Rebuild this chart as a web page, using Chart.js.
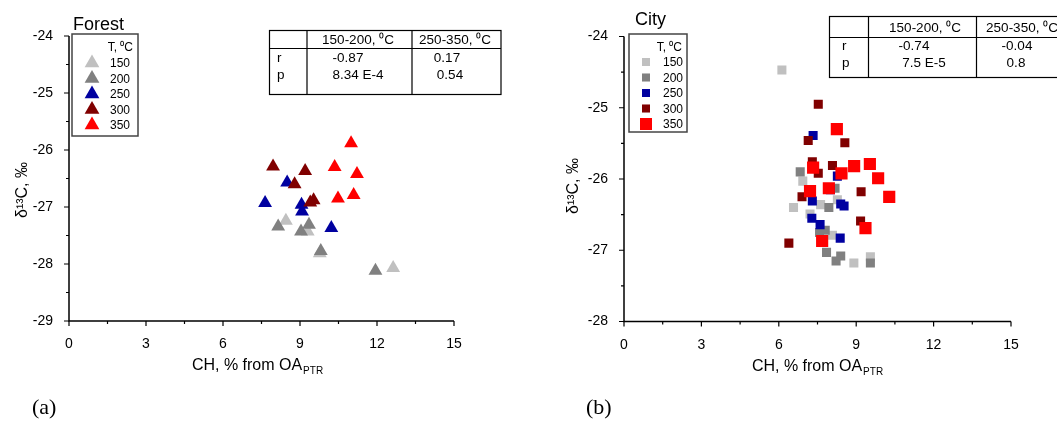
<!DOCTYPE html>
<html lang="en">
<head>
<meta charset="utf-8">
<title>d13C vs CH - Forest and City</title>
<script src="https://cdn.jsdelivr.net/npm/chart.js@4.4.1/dist/chart.umd.min.js"></script>
<style>
  body { margin: 0; background: #fff; }
  #wrap { position: relative; width: 1057px; height: 421px; overflow: hidden; }
  canvas { position: absolute; top: 0; }
  #forest { left: 0; }
  #city { left: 540px; }
</style>
</head>
<body>
<div id="wrap">
  <canvas id="forest" width="540" height="421"></canvas>
  <canvas id="city" width="517" height="421"></canvas>
</div>
<script>
// pyrolysis temperatures and colours
const temps = ['150', '200', '250', '300', '350'];
const colours = ['#c0c0c0', '#808080', '#0000a0', '#800000', '#ff0000'];

// Forest: [CH % from OA_PTR, d13C permil]
const forest150 = [[8.45, -27.24], [9.30, -27.43], [9.77, -27.81], [12.63, -28.07]];
const forest200 = [[8.15, -27.34], [9.35, -27.31], [9.04, -27.43], [9.81, -27.77], [11.94, -28.12]];
const forest250 = [[8.50, -26.57], [7.64, -26.93], [9.06, -26.96], [9.08, -27.08], [10.22, -27.37]];
const forest300 = [[7.95, -26.29], [9.20, -26.37], [8.79, -26.60], [9.53, -26.88], [9.40, -26.92]];
const forest350 = [[10.99, -25.88], [10.35, -26.30], [11.22, -26.42], [10.48, -26.85], [11.09, -26.79]];

// City
const city150 = [[6.12, -24.47], [6.93, -26.03], [6.57, -26.40], [7.62, -26.36], [7.21, -26.49],
                 [8.27, -26.29], [8.08, -26.79], [8.91, -27.18], [9.55, -27.09]];
const city200 = [[6.83, -25.90], [8.18, -26.13], [7.94, -26.40], [7.58, -26.75], [7.80, -26.72],
                 [7.85, -27.03], [8.22, -27.15], [8.40, -27.08], [9.55, -27.18]];
const city250 = [[7.33, -25.39], [8.27, -25.96], [8.00, -26.15], [7.30, -26.31], [8.40, -26.35],
                 [8.53, -26.38], [7.28, -26.55], [7.60, -26.64], [8.38, -26.83]];
const city300 = [[7.53, -24.95], [7.14, -25.46], [8.56, -25.49], [7.30, -25.76], [8.08, -25.81],
                 [7.53, -25.92], [6.90, -26.25], [9.19, -26.18], [9.17, -26.59], [6.39, -26.90]];
const city350 = [[8.25, -25.30], [7.33, -25.84], [8.43, -25.92], [8.92, -25.82], [9.53, -25.79],
                 [9.85, -25.99], [7.94, -26.13], [7.21, -26.17], [10.28, -26.25], [9.36, -26.69],
                 [7.68, -26.87]];

// correlation tables
const tableHead = ['150-200, \u2070C', '250-350, \u2070C'];
const rowNames = ['r', 'p'];
const forestStats = [['-0.87', '0.17'], ['8.34 E-4', '0.54']];
const cityStats = [['-0.74', '-0.04'], ['7.5 E-5', '0.8']];

const xTicks = { min: 0, max: 15, step: 3 };
const FONT = 'Liberation Sans, Arial, sans-serif';

function markerAt(ctx, style, r, x, y) {
  if (Chart.helpers && Chart.helpers.drawPoint) {
    Chart.helpers.drawPoint(ctx, { pointStyle: style, radius: r, rotation: 0, borderWidth: 0 }, x, y);
    return;
  }
  ctx.beginPath();
  if (style === 'triangle') {
    ctx.moveTo(x, y - r);
    ctx.lineTo(x + r * 0.866, y + r / 2);
    ctx.lineTo(x - r * 0.866, y + r / 2);
    ctx.closePath();
  } else {
    const s = r * Math.SQRT1_2;
    ctx.rect(x - s, y - s, 2 * s, 2 * s);
  }
  ctx.fill();
}

const decor = {
  id: 'decor',
  afterDraw(chart, args, o) {
    const ctx = chart.ctx, a = chart.chartArea;
    const xs = chart.scales.x, ys = chart.scales.y;
    ctx.save();

    // axis lines
    ctx.strokeStyle = '#000';
    ctx.lineWidth = 1.5;
    ctx.beginPath();
    ctx.moveTo(a.left, a.top);
    ctx.lineTo(a.left, a.bottom);
    ctx.lineTo(a.right, a.bottom);
    ctx.stroke();

    // major + minor ticks, outward
    ctx.lineWidth = 1.2;
    ctx.beginPath();
    for (let i = 0; i <= 10; i++) {
      const px = xs.getPixelForValue(i * 1.5);
      ctx.moveTo(px, a.bottom);
      ctx.lineTo(px, a.bottom + (i % 2 === 0 ? 5 : 3));
    }
    const ny = Math.round((ys.max - ys.min) * 2);
    for (let i = 0; i <= ny; i++) {
      const py = ys.getPixelForValue(ys.min + i * 0.5);
      ctx.moveTo(a.left, py);
      ctx.lineTo(a.left - (i % 2 === 0 ? 5 : 3), py);
    }
    ctx.stroke();

    ctx.fillStyle = '#000';

    // y title
    ctx.save();
    ctx.translate(o.yTitle[0], o.yTitle[1]);
    ctx.rotate(-Math.PI / 2);
    ctx.font = '16px ' + FONT;
    ctx.textAlign = 'center';
    ctx.textBaseline = 'middle';
    ctx.fillText('\u03b4\u00b9\u00b3C, \u2030', 0, 0);
    ctx.restore();

    // x title with subscript
    ctx.textBaseline = 'alphabetic';
    ctx.textAlign = 'left';
    ctx.font = '16px ' + FONT;
    const main = 'CH, % from OA';
    const wm = ctx.measureText(main).width;
    ctx.font = '10px ' + FONT;
    const ws = ctx.measureText('PTR').width;
    let x0 = o.xTitle[0] - (wm + ws) / 2;
    ctx.font = '16px ' + FONT;
    ctx.fillText(main, x0, o.xTitle[1]);
    ctx.font = '10px ' + FONT;
    ctx.fillText('PTR', x0 + wm + 1, o.xTitle[1] + 4);

    // panel title and label
    ctx.font = '18px ' + FONT;
    ctx.fillText(o.title, o.titlePos[0], o.titlePos[1]);
    ctx.font = '22px Liberation Serif, Times New Roman, serif';
    ctx.fillText(o.panel, o.panelPos[0], o.panelPos[1]);

    // legend box
    const L = o.legend;
    ctx.strokeStyle = '#444';
    ctx.lineWidth = 1.5;
    ctx.strokeRect(L.x, L.y, L.w, L.h);
    ctx.font = '12px ' + FONT;
    ctx.textAlign = 'right';
    ctx.textBaseline = 'middle';
    ctx.fillText('T, \u2070C', L.x + L.w - 5, L.y + 14);
    chart.data.datasets.forEach((ds, i) => {
      const cy = L.y + L.first + i * L.gap;
      ctx.fillStyle = ds.backgroundColor;
      markerAt(ctx, ds.pointStyle, L.r[i], L.x + L.mx, cy);
      ctx.fillStyle = '#000';
      ctx.textAlign = 'left';
      ctx.fillText(ds.label, L.x + L.tx, cy + 1);
    });

    // stats table
    const T = o.table;
    ctx.strokeStyle = '#000';
    ctx.lineWidth = 1.2;
    ctx.strokeRect(T.x, T.y, T.w, T.h);
    ctx.beginPath();
    ctx.moveTo(T.x, T.y + T.hh); ctx.lineTo(T.x + T.w, T.y + T.hh);
    T.cols.forEach(c => { ctx.moveTo(c, T.y); ctx.lineTo(c, T.y + T.h); });
    ctx.stroke();
    ctx.font = '13.5px ' + FONT;
    ctx.textBaseline = 'middle';
    ctx.textAlign = 'center';
    tableHead.forEach((h, j) => ctx.fillText(h, T.headX[j], T.y + T.hh / 2 + 1));
    rowNames.forEach((rn, k) => {
      const cy = T.y + T.hh + T.row0 + k * T.rowGap;
      ctx.textAlign = 'left';
      ctx.fillText(rn, T.nameX, cy);
      ctx.textAlign = 'center';
      T.stats[k].forEach((v, j) => ctx.fillText(v, T.valX[k][j], cy));
    });

    ctx.restore();
  }
};

function toXY(pts) { return pts.map(p => ({ x: p[0], y: p[1] })); }

function makeChart(id, sets, cfg) {
  return new Chart(document.getElementById(id), {
    type: 'scatter',
    data: {
      datasets: sets.map((pts, i) => ({
        label: temps[i],
        data: toXY(pts),
        backgroundColor: colours[i],
        borderWidth: 0,
        pointStyle: cfg.style,
        pointRadius: cfg.radius[i],
        pointHoverRadius: cfg.radius[i],
        order: sets.length - i
      }))
    },
    options: {
      responsive: false,
      animation: false,
      events: [],
      layout: { padding: { left: 0, top: cfg.top, right: cfg.right, bottom: 0 } },
      scales: {
        x: {
          type: 'linear', min: xTicks.min, max: xTicks.max,
          grid: { display: false }, border: { display: false },
          ticks: { stepSize: xTicks.step, padding: 7, color: '#000', font: { family: FONT, size: 14 } },
          afterFit: s => { s.height = cfg.xh; }
        },
        y: {
          type: 'linear', min: cfg.ymin, max: cfg.ymax,
          grid: { display: false }, border: { display: false },
          ticks: { stepSize: 1, padding: 8, color: '#000', font: { family: FONT, size: 14 } },
          afterFit: s => { s.width = cfg.yw; }
        }
      },
      plugins: {
        legend: { display: false },
        tooltip: { enabled: false },
        decor: cfg.decor
      }
    },
    plugins: [decor]
  });
}

makeChart('forest', [forest150, forest200, forest250, forest300, forest350], {
  style: 'triangle', radius: [8, 8, 8, 8, 8],
  top: 36, right: 86, xh: 100, yw: 69, ymin: -29, ymax: -24,
  decor: {
    title: 'Forest', titlePos: [73, 30],
    panel: '(a)', panelPos: [32, 414],
    yTitle: [23, 190], xTitle: [257, 370],
    legend: { x: 72, y: 34, w: 66, h: 102, mx: 20, tx: 38, first: 29, gap: 15.5, r: [8.5, 8.5, 8.5, 8.5, 8.5] },
    table: {
      x: 269.5, y: 30.5, w: 231.5, h: 64, hh: 18, cols: [307, 412],
      headX: [358, 455], nameX: 277, row0: 10, rowGap: 17,
      valX: [[348, 447], [358, 450]], stats: forestStats
    }
  }
});

makeChart('city', [city150, city200, city250, city300, city350], {
  style: 'rect', radius: [6.4, 6.4, 6.4, 6.4, 8.6],
  top: 36.5, right: 46, xh: 99.5, yw: 84, ymin: -28, ymax: -24,
  decor: {
    title: 'City', titlePos: [95, 25],
    panel: '(b)', panelPos: [46, 414],
    yTitle: [34, 186], xTitle: [277, 371],
    legend: { x: 89, y: 34, w: 58, h: 98, mx: 17, tx: 34, first: 28, gap: 15.5, r: [5.7, 5.7, 5.7, 5.7, 8.5] },
    table: {
      x: 289.5, y: 16.5, w: 260, h: 61, hh: 21, cols: [328.5, 436.5],
      headX: [385, 482], nameX: 302, row0: 9, rowGap: 16.5,
      valX: [[374, 477], [384, 476]], stats: cityStats
    }
  }
});
</script>
</body>
</html>
